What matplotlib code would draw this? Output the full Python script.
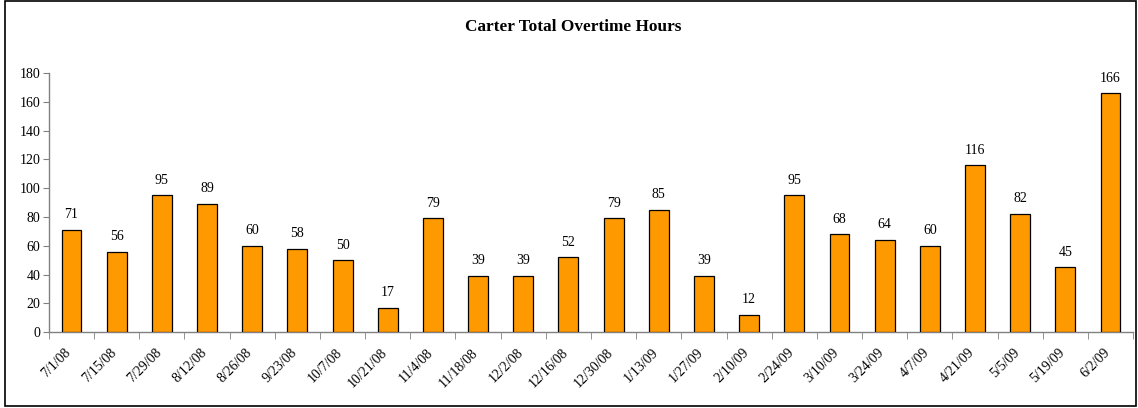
import matplotlib
matplotlib.use("Agg")
import matplotlib.pyplot as plt
import matplotlib.transforms as mtransforms
import numpy as np

dates = ["7/1/08", "7/15/08", "7/29/08", "8/12/08", "8/26/08", "9/23/08", "10/7/08",
         "10/21/08", "11/4/08", "11/18/08", "12/2/08", "12/16/08", "12/30/08", "1/13/09",
         "1/27/09", "2/10/09", "2/24/09", "3/10/09", "3/24/09", "4/7/09", "4/21/09",
         "5/5/09", "5/19/09", "6/2/09"]
hours = [71, 56, 95, 89, 60, 58, 50, 17, 79, 39, 39, 52, 79, 85, 39, 12, 95, 68, 64,
         60, 116, 82, 45, 166]

plt.rcParams['font.family'] = ['Liberation Serif', 'DejaVu Serif']

fig = plt.figure(figsize=(11.38, 4.08), dpi=100)
ax = fig.add_axes([0.043, 0.186, 0.9527, 0.635])

# border round the whole chart
fig.patches.append(plt.Rectangle((0.004, 0.005), 0.994, 0.992, transform=fig.transFigure,
                                 fill=False, edgecolor='black', linewidth=1.2))

x = np.arange(len(hours))
ax.bar(x, hours, width=0.44, color='#FF9900', edgecolor='black', linewidth=0.9, zorder=3)
for xi, h in zip(x, hours):
    ax.text(xi, h + 6, str(h), ha='center', va='bottom', fontsize=10)

ax.set_xlim(-0.5, len(hours) - 0.5)
ax.set_ylim(0, 180)
ax.set_yticks(range(0, 181, 20))
ax.set_xticks(x)
ax.set_xticklabels(dates, rotation=45, ha='right', rotation_mode='anchor', fontsize=10)
ax.set_xticks(np.arange(-0.5, len(hours)), minor=True)
ax.tick_params(axis='x', which='major', length=0, pad=10)
ax.tick_params(axis='x', which='minor', length=5, color='#808080')
ax.tick_params(axis='y', length=4, color='#808080', labelsize=10, pad=2)

# nudge the slanted labels a little to the left
shift = mtransforms.ScaledTranslation(-7 / 100, 0, fig.dpi_scale_trans)
for lab in ax.get_xticklabels():
    lab.set_transform(lab.get_transform() + shift)

for s in ['top', 'right']:
    ax.spines[s].set_visible(False)
for s in ['left', 'bottom']:
    ax.spines[s].set_color('#808080')
    ax.spines[s].set_linewidth(1.0)

fig.text(0.504, 0.935, "Carter Total Overtime Hours", ha='center', va='center',
         fontsize=12.4, fontweight='bold')

fig.savefig("out.png", dpi=100)
